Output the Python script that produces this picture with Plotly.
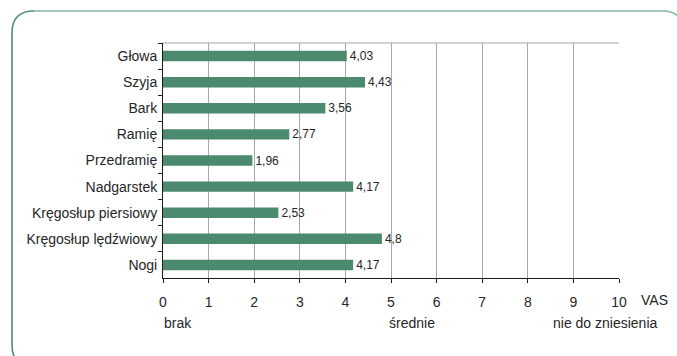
import plotly.graph_objects as go

# Pain intensity (VAS) by body region
regions = ["Głowa", "Szyja", "Bark", "Ramię", "Przedramię", "Nadgarstek",
           "Kręgosłup piersiowy", "Kręgosłup lędźwiowy", "Nogi"]
vas_mean = [4.03, 4.43, 3.56, 2.77, 1.96, 4.17, 2.53, 4.8, 4.17]
x_ticks = list(range(0, 11))
scale_labels = [("brak", 161.5), ("średnie", 387), ("nie do zniesienia", 551)]

W, H = 677, 356
ML, MR, MT, MB = 163, 58, 43, 78
PW, PH = W - ML - MR, H - MT - MB

def px(x):
    return (x - ML) / PW

def py(y):
    return (H - MB - y) / PH

bar_color = "#4b8a6f"
text_color = "#262626"
font = "Liberation Sans, Arial, sans-serif"

fig = go.Figure(go.Bar(
    x=vas_mean,
    y=regions,
    orientation="h",
    width=0.4,
    marker=dict(color=bar_color, line=dict(width=0)),
    text=[str(v).replace(".", ",") for v in vas_mean],
    textposition="outside",
    constraintext="none",
    textfont=dict(size=12, color=text_color, family=font),
    cliponaxis=False,
))

# rounded frame around the chart: left edge with both corners, then top edge
left_path = (f"M {px(34)},{py(367)} Q {px(12)},{py(367)} {px(12)},{py(345)} "
             f"L {px(12)},{py(33)} "
             f"Q {px(12)},{py(11)} {px(34)},{py(11)}")
top_path = (f"M {px(34)},{py(11)} L {px(662)},{py(11)} "
            f"Q {px(684)},{py(11)} {px(684)},{py(33)}")

shapes = [
    dict(type="path", xref="paper", yref="paper", path=left_path,
         line=dict(color="#4f8f75", width=1.6), layer="below"),
    dict(type="path", xref="paper", yref="paper", path=top_path,
         line=dict(color="#86b8a3", width=1.6), layer="below"),
    # top border of the plot area
    dict(type="line", xref="paper", yref="paper", x0=0, x1=1, y0=1, y1=1,
         line=dict(color="#a8a8a8", width=1)),
]

annotations = [
    dict(text="VAS", xref="paper", yref="paper", x=px(654), y=py(300),
         xanchor="center", yanchor="middle", showarrow=False,
         font=dict(size=14, color=text_color, family=font)),
]
for label, left in scale_labels:
    annotations.append(dict(
        text=label, xref="paper", yref="paper", x=px(left), y=py(323),
        xanchor="left", yanchor="middle", showarrow=False,
        font=dict(size=14, color=text_color, family=font)))

fig.update_layout(
    width=W, height=H,
    margin=dict(l=ML, r=MR, t=MT, b=MB, pad=0),
    paper_bgcolor="white", plot_bgcolor="white",
    showlegend=False,
    shapes=shapes,
    annotations=annotations,
    font=dict(family=font, color=text_color),
    xaxis=dict(
        range=[0, 10], tickvals=x_ticks, ticktext=[str(t) for t in x_ticks],
        showgrid=True, gridcolor="#a8a8a8", gridwidth=1,
        zeroline=False, showline=True, linecolor="#1a1a1a", linewidth=1,
        ticks="outside", ticklen=4, tickcolor="#1a1a1a",
        ticklabelstandoff=7,
        tickfont=dict(size=14, color=text_color, family=font),
        fixedrange=True,
    ),
    yaxis=dict(
        categoryorder="array", categoryarray=regions, autorange="reversed",
        showgrid=False, zeroline=False, showline=True,
        linecolor="#1a1a1a", linewidth=1,
        ticks="outside", ticklen=4, tickcolor="#1a1a1a", tickson="boundaries",
        ticklabelstandoff=2,
        tickfont=dict(size=14, color=text_color, family=font),
        fixedrange=True,
    ),
    bargap=0.6,
)

fig.write_html("out.html")
